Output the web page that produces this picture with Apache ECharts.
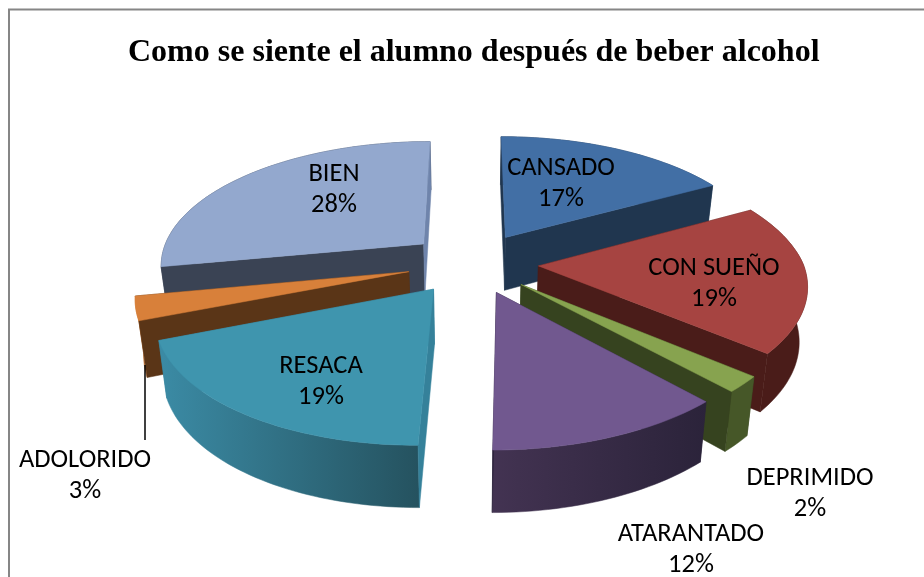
<!DOCTYPE html>
<html>
<head>
<meta charset="utf-8">
<style>
html, body { margin: 0; padding: 0; background: #fff; }
#chart { width: 924px; height: 577px; }
</style>
<script src="https://cdn.jsdelivr.net/npm/echarts@6/dist/echarts.min.js"></script>
</head>
<body>
<div id="chart"></div>
<script>
const titleText = 'Como se siente el alumno después de beber alcohol'
const categories = ['CANSADO', 'CON SUEÑO', 'DEPRIMIDO', 'ATARANTADO', 'RESACA', 'ADOLORIDO', 'BIEN']
const shares = [17, 19, 2, 12, 19, 3, 28]

// colores: cara superior, paredes interiores, pared exterior (izq -> der)
const topColors = ['#426fa5', '#a64441', '#87a34f', '#71588f', '#3f95ae', '#d8803a', '#93a8ce']
const startWallColors = ['#20364f', '#4a1c19', '#36431f', '#2b233a', '#35819a', '#5a3517', '#3a4354']
const endWallColors = ['#20364f', '#4a1c19', '#36431f', '#2b233a', '#35819a', '#5a3517', '#6f84ab']
const rimColors = [
    ['#20364f', '#2a4666'],
    ['#4a1c19', '#4a1c19'],
    ['#465728', '#465728'],
    ['#433352', '#2b233a'],
    ['#3b8ba5', '#25525f'],
    ['#d5813b', '#b56b30'],
    ['#3a4354', '#3a4354']
]
// centro de cada etiqueta (primera linea)
const labelX = [561, 714, 810, 691, 321, 85, 334]
const labelY = [168, 268, 478, 534, 366, 460, 174]

const total = shares.reduce((sum, v) => sum + v, 0)
const toAngle = v => v / total * Math.PI * 2

// perspectiva del pastel
const cx = 473, cy = 263, radX = 264.5, radY = 123.4, depth = 0.153, thick = 54, explode = 0.248, shear = 0.025

const project = (a, r, mid, lower) => {
    const Y = Math.cos(a) * r + Math.cos(mid) * explode
    const X = Math.sin(a) * r + Math.sin(mid) * explode + shear * Math.min(Y, 0)
    const p = 1 / (1 + depth * Y)
    if (!lower) return [cx + radX * X * p, cy - radY * Y * p]
    return [cx + radX * X * p * 0.975, cy - radY * Y * p + thick * Math.pow(p, 0.7)]
}

const renderSlice = (params, api) => {
    const i = params.dataIndex
    const before = shares.slice(0, i).reduce((sum, v) => sum + v, 0)
    const start = toAngle(before)
    const end = toAngle(before + api.value(0))
    const mid = (start + end) / 2
    const steps = Math.max(4, Math.round((end - start) * 40))
    const arcTop = [], arcLow = []
    for (let s = 0; s <= steps; s++) {
        const a = start + (end - start) * s / steps
        arcTop.push(project(a, 1, mid, false))
        arcLow.push(project(a, 1, mid, true))
    }
    const apexTop = project(0, 0, mid, false)
    const apexLow = project(0, 0, mid, true)
    // orden de pintado: de atras hacia adelante
    const z = Math.round((1 - Math.cos(mid)) * 20) + 1
    const poly = (points, fill, order) => ({
        type: 'polygon',
        z2: z * 5 + order,
        shape: { points },
        style: { fill, stroke: fill, lineWidth: 0.5 }
    })
    const lastSlice = i === shares.length - 1
    const children = [
        poly([apexTop, arcTop[0], arcLow[0], apexLow], startWallColors[i], start >= Math.PI ? 2 : 0),
        poly([apexTop, arcTop[steps], arcLow[steps], apexLow], endWallColors[i], end <= Math.PI || lastSlice ? 2 : 0),
        poly(arcTop.concat(arcLow.slice().reverse()), new echarts.graphic.LinearGradient(0, 0, 1, 0, [
            { offset: 0, color: rimColors[i][0] },
            { offset: 1, color: rimColors[i][1] }
        ]), 1),
        poly([apexTop].concat(arcTop), topColors[i], 3)
    ]
    const font = { fontFamily: 'Carlito, Lato', fontSize: 26.5, fill: '#000', align: 'center', verticalAlign: 'middle' }
    children.push({ type: 'text', z2: 500, style: Object.assign({ text: categories[i], x: labelX[i], y: labelY[i] }, font) })
    children.push({ type: 'text', z2: 500, style: Object.assign({ text: api.value(0) + '%', x: labelX[i], y: labelY[i] + 31 }, font) })
    return { type: 'group', children }
}

const chart = echarts.init(document.getElementById('chart'), null, { renderer: 'canvas' })
chart.setOption({
    animation: false,
    backgroundColor: '#fff',
    title: {
        text: titleText,
        left: 123,
        top: 32,
        textStyle: { fontFamily: 'Liberation Serif', fontWeight: 'bold', fontSize: 32, color: '#000' }
    },
    graphic: [
        {
            type: 'rect',
            silent: true,
            shape: { x: 9, y: 9.5, width: 1000, height: 1000 },
            style: { fill: 'none', stroke: '#868686', lineWidth: 2 }
        },
        {
            type: 'line',
            silent: true,
            z: 10,
            shape: { x1: 145, y1: 365, x2: 145, y2: 440 },
            style: { stroke: '#000', lineWidth: 1.5 }
        }
    ],
    series: [{
        type: 'custom',
        coordinateSystem: 'none',
        renderItem: renderSlice,
        data: shares
    }]
})
</script>
</body>
</html>
